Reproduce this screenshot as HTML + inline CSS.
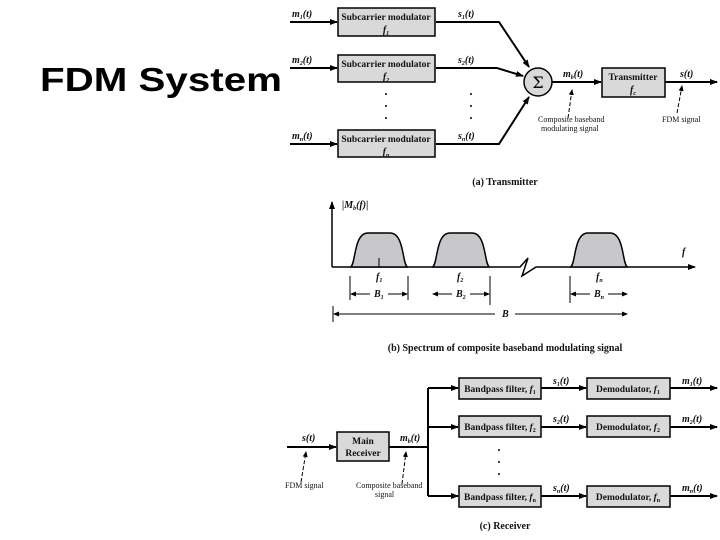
<!DOCTYPE html>
<html><head><style>
body{margin:0;width:720px;height:540px;background:#fff;overflow:hidden}
svg{position:absolute;left:0;top:0}
.t{font-family:"Liberation Serif",serif;font-size:10px;fill:#111}
.bx{font-size:9.5px}
.b{font-weight:bold}
.i{font-style:italic;font-weight:bold}
</style></head><body>
<svg width="720" height="540" viewBox="0 0 720 540">
<defs><marker id="a" markerWidth="8" markerHeight="6" refX="7" refY="3" orient="auto" markerUnits="userSpaceOnUse"><path d="M0,0L8,3L0,6z" fill="#000"/></marker>
<marker id="s" markerWidth="6" markerHeight="5" refX="5" refY="2.5" orient="auto" markerUnits="userSpaceOnUse"><path d="M0,0L6,2.5L0,5z" fill="#000"/></marker></defs>
<text x="40" y="91" font-family="Liberation Sans,sans-serif" font-weight="bold" font-size="33" fill="#000" textLength="242" lengthAdjust="spacingAndGlyphs">FDM System</text>
<g stroke="#000" stroke-width="2" fill="none">
<line x1="290" y1="22" x2="337" y2="22" marker-end="url(#a)"/>
<line x1="290" y1="68" x2="337" y2="68" marker-end="url(#a)"/>
<line x1="290" y1="144" x2="337" y2="144" marker-end="url(#a)"/>
<polyline points="436,22 499,22 529,67" marker-end="url(#a)"/>
<polyline points="436,68 497,68 523,76"  marker-end="url(#a)"/>
<polyline points="436,144 499,144 529,97" marker-end="url(#a)"/>
<line x1="552" y1="82" x2="601" y2="82" marker-end="url(#a)"/>
<line x1="665" y1="82" x2="717" y2="82" marker-end="url(#a)"/>
</g>
<g fill="#d9d9d9" stroke="#000" stroke-width="1.5">
<rect x="338" y="8" width="97" height="28"/>
<rect x="338" y="55" width="97" height="27"/>
<rect x="338" y="130" width="97" height="27"/>
<rect x="602" y="68" width="63" height="29"/>
<circle cx="538" cy="82" r="14"/>
</g>
<text x="538" y="88" text-anchor="middle" font-size="16" font-family="DejaVu Serif,serif">Σ</text>
<g class="t">
<text x="386" y="20" text-anchor="middle" class="b bx">Subcarrier modulator</text>
<text x="386" y="33" text-anchor="middle" class="i">f<tspan font-size="6" dy="2">1</tspan></text>
<text x="386" y="67" text-anchor="middle" class="b bx">Subcarrier modulator</text>
<text x="386" y="80" text-anchor="middle" class="i">f<tspan font-size="6" dy="2">2</tspan></text>
<text x="386" y="142" text-anchor="middle" class="b bx">Subcarrier modulator</text>
<text x="386" y="155" text-anchor="middle" class="i">f<tspan font-size="6" dy="2">n</tspan></text>
<text x="633" y="80" text-anchor="middle" class="b bx">Transmitter</text>
<text x="633" y="93" text-anchor="middle" class="i">f<tspan font-size="6" dy="2">c</tspan></text>
<text x="292" y="17" class="i">m<tspan font-size="6" dy="2">1</tspan><tspan dy="-2">(t)</tspan></text>
<text x="292" y="63" class="i">m<tspan font-size="6" dy="2">2</tspan><tspan dy="-2">(t)</tspan></text>
<text x="292" y="139" class="i">m<tspan font-size="6" dy="2">n</tspan><tspan dy="-2">(t)</tspan></text>
<text x="458" y="17" class="i">s<tspan font-size="6" dy="2">1</tspan><tspan dy="-2">(t)</tspan></text>
<text x="458" y="63" class="i">s<tspan font-size="6" dy="2">2</tspan><tspan dy="-2">(t)</tspan></text>
<text x="458" y="139" class="i">s<tspan font-size="6" dy="2">n</tspan><tspan dy="-2">(t)</tspan></text>
<text x="563" y="77" class="i">m<tspan font-size="6" dy="2">b</tspan><tspan dy="-2">(t)</tspan></text>
<text x="680" y="77" class="i">s(t)</text>
<text x="538" y="122" font-size="8">Composite baseband</text>
<text x="541" y="131" font-size="8">modulating signal</text>
<text x="662" y="122" font-size="8">FDM signal</text>
<text x="505" y="185" text-anchor="middle" class="b">(a) Transmitter</text>
<text x="505" y="351" text-anchor="middle" class="b">(b) Spectrum of composite baseband modulating signal</text>
<text x="505" y="529" text-anchor="middle" class="b">(c) Receiver</text>
</g>
<g fill="#000">
<circle cx="386" cy="94" r="1"/><circle cx="386" cy="106" r="1"/><circle cx="386" cy="118" r="1"/>
<circle cx="471" cy="94" r="1"/><circle cx="471" cy="106" r="1"/><circle cx="471" cy="118" r="1"/>
<circle cx="499" cy="450" r="1"/><circle cx="499" cy="462" r="1"/><circle cx="499" cy="474" r="1"/>
</g>
<g stroke="#000" stroke-width="1" fill="none" stroke-dasharray="4,2">
<line x1="568" y1="118" x2="572" y2="90" marker-end="url(#s)"/>
<line x1="677" y1="113" x2="682" y2="86" marker-end="url(#s)"/>
<line x1="301" y1="482" x2="306" y2="452" marker-end="url(#s)"/>
<line x1="402" y1="484" x2="406" y2="452" marker-end="url(#s)"/>
</g>
<g stroke="#000" stroke-width="1.5">
<line x1="332" y1="267" x2="332" y2="202" marker-end="url(#a)"/>
<polyline points="332,267 520,267 528,258 522,276 536,267 695,267" fill="none" marker-end="url(#a)"/>
<g fill="#c8c8cc">
<path d="M350,267 C356,267 353,233 368,233 L390,233 C405,233 402,267 408,267Z"/>
<path d="M432,267 C438,267 435,233 450,233 L472,233 C487,233 484,267 490,267Z"/>
<path d="M570,267 C576,267 573,233 588,233 L610,233 C625,233 622,267 628,267Z"/>
</g>
</g>
<g stroke="#000" stroke-width="1" fill="none">
<line x1="379" y1="258" x2="379" y2="267"/>
<line x1="350" y1="276" x2="350" y2="300"/><line x1="408" y1="276" x2="408" y2="300"/>
<line x1="490" y1="276" x2="490" y2="305"/><line x1="570" y1="276" x2="570" y2="303"/>
<line x1="333" y1="306" x2="333" y2="322"/>
<line x1="370" y1="294" x2="351" y2="294" marker-end="url(#s)"/><line x1="388" y1="294" x2="407" y2="294" marker-end="url(#s)"/>
<line x1="452" y1="294" x2="433" y2="294" marker-end="url(#s)"/><line x1="470" y1="294" x2="489" y2="294" marker-end="url(#s)"/>
<line x1="590" y1="294" x2="571" y2="294" marker-end="url(#s)"/><line x1="608" y1="294" x2="627" y2="294" marker-end="url(#s)"/>
<line x1="495" y1="314" x2="334" y2="314" marker-end="url(#s)"/><line x1="515" y1="314" x2="627" y2="314" marker-end="url(#s)"/>
</g>
<g class="t i">
<text x="342" y="208">|M<tspan font-size="6" dy="2">b</tspan><tspan dy="-2">(f)|</tspan></text>
<text x="682" y="255">f</text>
<text x="376" y="280">f<tspan font-size="6" dy="2">1</tspan></text>
<text x="457" y="280">f<tspan font-size="6" dy="2">2</tspan></text>
<text x="596" y="280">f<tspan font-size="6" dy="2">n</tspan></text>
<text x="374" y="297">B<tspan font-size="6" dy="2">1</tspan></text>
<text x="456" y="297">B<tspan font-size="6" dy="2">2</tspan></text>
<text x="594" y="297">B<tspan font-size="6" dy="2">n</tspan></text>
<text x="502" y="317">B</text>
</g>
<g stroke="#000" stroke-width="2" fill="none">
<line x1="287" y1="447" x2="336" y2="447" marker-end="url(#a)"/>
<polyline points="389,447 428,447"/>
<line x1="428" y1="388" x2="428" y2="496"/>
<line x1="428" y1="388" x2="458" y2="388" marker-end="url(#a)"/>
<line x1="428" y1="427" x2="458" y2="427" marker-end="url(#a)"/>
<line x1="428" y1="496" x2="458" y2="496" marker-end="url(#a)"/>
<line x1="541" y1="388" x2="586" y2="388" marker-end="url(#a)"/>
<line x1="541" y1="427" x2="586" y2="427" marker-end="url(#a)"/>
<line x1="541" y1="496" x2="586" y2="496" marker-end="url(#a)"/>
<line x1="670" y1="388" x2="717" y2="388" marker-end="url(#a)"/>
<line x1="670" y1="427" x2="717" y2="427" marker-end="url(#a)"/>
<line x1="670" y1="496" x2="717" y2="496" marker-end="url(#a)"/>
</g>
<g fill="#d9d9d9" stroke="#000" stroke-width="1.5">
<rect x="337" y="432" width="52" height="29"/>
<rect x="459" y="378" width="82" height="21"/>
<rect x="459" y="416" width="82" height="21"/>
<rect x="459" y="486" width="82" height="21"/>
<rect x="587" y="378" width="83" height="21"/>
<rect x="587" y="416" width="83" height="21"/>
<rect x="587" y="486" width="83" height="21"/>
</g>
<g class="t">
<text x="363" y="444" text-anchor="middle" class="b bx">Main</text>
<text x="363" y="456" text-anchor="middle" class="b bx">Receiver</text>
<text x="500" y="392" text-anchor="middle" class="b bx">Bandpass filter, <tspan font-style="italic">f</tspan><tspan font-size="6" dy="2">1</tspan></text>
<text x="500" y="430" text-anchor="middle" class="b bx">Bandpass filter, <tspan font-style="italic">f</tspan><tspan font-size="6" dy="2">2</tspan></text>
<text x="500" y="500" text-anchor="middle" class="b bx">Bandpass filter, <tspan font-style="italic">f</tspan><tspan font-size="6" dy="2">n</tspan></text>
<text x="628" y="392" text-anchor="middle" class="b bx">Demodulator, <tspan font-style="italic">f</tspan><tspan font-size="6" dy="2">1</tspan></text>
<text x="628" y="430" text-anchor="middle" class="b bx">Demodulator, <tspan font-style="italic">f</tspan><tspan font-size="6" dy="2">2</tspan></text>
<text x="628" y="500" text-anchor="middle" class="b bx">Demodulator, <tspan font-style="italic">f</tspan><tspan font-size="6" dy="2">n</tspan></text>
<text x="302" y="441" class="i">s(t)</text>
<text x="400" y="441" class="i">m<tspan font-size="6" dy="2">b</tspan><tspan dy="-2">(t)</tspan></text>
<text x="553" y="384" class="i">s<tspan font-size="6" dy="2">1</tspan><tspan dy="-2">(t)</tspan></text>
<text x="553" y="422" class="i">s<tspan font-size="6" dy="2">2</tspan><tspan dy="-2">(t)</tspan></text>
<text x="553" y="491" class="i">s<tspan font-size="6" dy="2">n</tspan><tspan dy="-2">(t)</tspan></text>
<text x="682" y="384" class="i">m<tspan font-size="6" dy="2">1</tspan><tspan dy="-2">(t)</tspan></text>
<text x="682" y="422" class="i">m<tspan font-size="6" dy="2">2</tspan><tspan dy="-2">(t)</tspan></text>
<text x="682" y="491" class="i">m<tspan font-size="6" dy="2">n</tspan><tspan dy="-2">(t)</tspan></text>
<text x="285" y="488" font-size="8">FDM signal</text>
<text x="356" y="488" font-size="8">Composite baseband</text>
<text x="375" y="497" font-size="8">signal</text>
</g>
</svg>
</body></html>
